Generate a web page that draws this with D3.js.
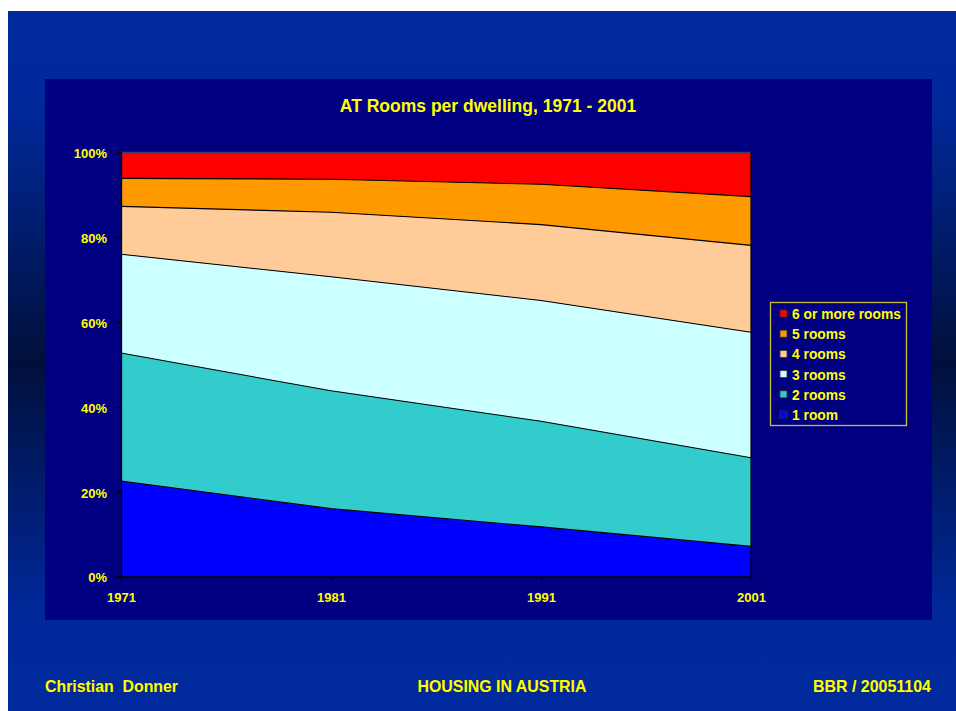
<!DOCTYPE html>
<html>
<head>
<meta charset="utf-8">
<script src="https://cdn.jsdelivr.net/npm/d3@7/dist/d3.min.js"></script>
<style>
  html, body { margin: 0; padding: 0; background: #ffffff; }
  svg { display: block; }
</style>
</head>
<body>
<svg id="chart" width="956" height="711"></svg>
<script>
// Census years
const years = ["1971", "1981", "1991", "2001"];

// Share of dwellings (%) by number of rooms, per census year
const oneRoom    = [22.5, 16.0, 11.7, 7.1];
const twoRooms   = [30.2, 27.8, 24.9, 20.9];
const threeRooms = [23.3, 26.9, 28.5, 29.6];
const fourRooms  = [11.3, 15.2, 17.9, 20.5];
const fiveRooms  = [6.6, 7.8, 9.5, 11.5];
const sixPlus    = [6.1, 6.3, 7.5, 10.4];

// Series names, bottom to top
const seriesNames = ["1 room", "2 rooms", "3 rooms", "4 rooms", "5 rooms", "6 or more rooms"];
const seriesValues = [oneRoom, twoRooms, threeRooms, fourRooms, fiveRooms, sixPlus];
const seriesColors = ["#0000FF", "#33CCCC", "#CCFFFF", "#FFCC99", "#FF9900", "#FF0000"];

// Y tick values (fractions)
const yTicks = [0, 0.2, 0.4, 0.6, 0.8, 1.0];

const rows = years.map((y, i) => {
  const r = { year: y };
  seriesNames.forEach((n, k) => { r[n] = seriesValues[k][i]; });
  return r;
});

const svg = d3.select("#chart");
const defs = svg.append("defs");

// Slide background gradient
const grad = defs.append("linearGradient")
  .attr("id", "slideBg").attr("x1", 0).attr("y1", 0).attr("x2", 0).attr("y2", 1);
grad.append("stop").attr("offset", "0%").attr("stop-color", "#002A9E");
grad.append("stop").attr("offset", "14%").attr("stop-color", "#00289A");
grad.append("stop").attr("offset", "50%").attr("stop-color", "#00103C");
grad.append("stop").attr("offset", "86%").attr("stop-color", "#00289A");
grad.append("stop").attr("offset", "100%").attr("stop-color", "#002A9E");

svg.append("rect")
  .attr("x", 8).attr("y", 11).attr("width", 948).attr("height", 700)
  .attr("fill", "url(#slideBg)");

// Chart frame
svg.append("rect")
  .attr("x", 45).attr("y", 79).attr("width", 887).attr("height", 541)
  .attr("fill", "#000080");

const plot = { left: 121, right: 751, top: 152.5, bottom: 576.5 };

const x = d3.scalePoint().domain(years).range([plot.left, plot.right]);
const y = d3.scaleLinear().domain([0, 1]).range([plot.bottom, plot.top]);

const stack = d3.stack().keys(seriesNames).offset(d3.stackOffsetExpand);
const layers = stack(rows);

const area = d3.area()
  .x(d => x(d.data.year))
  .y0(d => y(d[0]))
  .y1(d => y(d[1]));

const g = svg.append("g");

g.selectAll("path.layer")
  .data(layers)
  .join("path")
  .attr("class", "layer")
  .attr("d", area)
  .attr("fill", (d, i) => seriesColors[i]);

// Boundary lines between bands
const topLine = d3.line()
  .x(d => x(d.data.year))
  .y(d => y(d[1]));

g.selectAll("path.edge")
  .data(layers.slice(0, layers.length - 1))
  .join("path")
  .attr("class", "edge")
  .attr("d", topLine)
  .attr("fill", "none")
  .attr("stroke", "#000000")
  .attr("stroke-width", 1.1);

// Plot border (top in dark grey, right edge black)
svg.append("line")
  .attr("x1", plot.left).attr("x2", plot.right)
  .attr("y1", plot.top).attr("y2", plot.top)
  .attr("stroke", "#3a3a6a").attr("stroke-width", 1.5);
svg.append("line")
  .attr("x1", plot.right).attr("x2", plot.right)
  .attr("y1", plot.top).attr("y2", plot.bottom)
  .attr("stroke", "#000000").attr("stroke-width", 1.2);

const labelFont = "Liberation Sans, Arial, Helvetica, sans-serif";

// Y axis
const yAxis = svg.append("g")
  .attr("transform", `translate(${plot.left},0)`)
  .call(d3.axisLeft(y).tickValues(yTicks).tickFormat(d3.format(".0%")).tickSize(5).tickPadding(9));
yAxis.select(".domain").attr("stroke", "#000000").attr("stroke-width", 1.3);
yAxis.selectAll(".tick line").attr("stroke", "#000000").attr("stroke-width", 1.2);
yAxis.selectAll(".tick text")
  .attr("fill", "#FFFF00")
  .attr("font-family", labelFont)
  .attr("font-weight", "bold")
  .attr("font-size", "13px")
  .attr("dy", "0.42em");

// X axis
const xAxis = svg.append("g")
  .attr("transform", `translate(0,${plot.bottom})`)
  .call(d3.axisBottom(x).tickSize(5).tickSizeOuter(0).tickPadding(11));
xAxis.select(".domain").attr("stroke", "#000000").attr("stroke-width", 1.3);
xAxis.selectAll(".tick line").attr("stroke", "#000000").attr("stroke-width", 1.2);
xAxis.selectAll(".tick text")
  .attr("fill", "#FFFF00")
  .attr("font-family", labelFont)
  .attr("font-weight", "bold")
  .attr("font-size", "13px");

// Title
svg.append("text")
  .attr("x", 488).attr("y", 112)
  .attr("text-anchor", "middle")
  .attr("fill", "#FFFF00")
  .attr("font-family", labelFont)
  .attr("font-weight", "bold")
  .attr("font-size", "17.5px")
  .text("AT Rooms per dwelling, 1971 - 2001");

// Legend
const legend = svg.append("g");
legend.append("rect")
  .attr("x", 770.5).attr("y", 302.5).attr("width", 136).attr("height", 123)
  .attr("fill", "none")
  .attr("stroke", "#C8C030")
  .attr("stroke-width", 1.3);

const legendOrder = seriesNames.map((n, i) => i).reverse();
const legendItems = legend.selectAll("g.item")
  .data(legendOrder)
  .join("g")
  .attr("class", "item")
  .attr("transform", (d, j) => `translate(780, ${314 + j * 20.2})`);

legendItems.append("rect")
  .attr("x", 0).attr("y", -4).attr("width", 7).attr("height", 7)
  .attr("fill", d => seriesColors[d])
  .attr("stroke", "#333333")
  .attr("stroke-width", 0.8);

legendItems.append("text")
  .attr("x", 12).attr("y", 5)
  .attr("fill", "#FFFF00")
  .attr("font-family", labelFont)
  .attr("font-weight", "bold")
  .attr("font-size", "13.8px")
  .text(d => seriesNames[d]);

// Footer (condensed by fitting each label to its width)
const footFont = "Liberation Sans, Arial, sans-serif";
const footer = [
  { text: "Christian  Donner", x: 45, anchor: "start", width: 133 },
  { text: "HOUSING IN AUSTRIA", x: 502, anchor: "middle", width: 169 },
  { text: "BBR / 20051104", x: 931, anchor: "end", width: 118 }
];
svg.selectAll("text.footer")
  .data(footer)
  .join("text")
  .attr("class", "footer")
  .attr("x", d => d.x).attr("y", 692)
  .attr("text-anchor", d => d.anchor)
  .attr("textLength", d => d.width)
  .attr("lengthAdjust", "spacingAndGlyphs")
  .attr("fill", "#FFFF00")
  .attr("stroke", "#333300")
  .attr("stroke-width", 0.4)
  .attr("paint-order", "stroke")
  .attr("font-family", footFont)
  .attr("font-weight", "bold")
  .attr("font-size", "16.5px")
  .style("white-space", "pre")
  .text(d => d.text);
</script>
</body>
</html>
